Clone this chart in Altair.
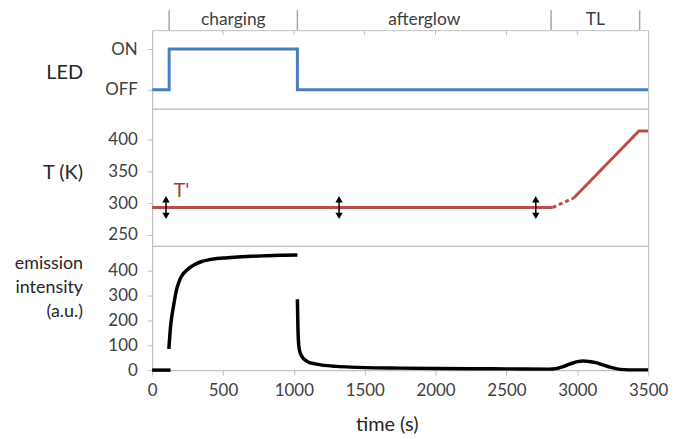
import altair as alt
import pandas as pd

# ---------------- data ----------------
x_ticks = [0, 500, 1000, 1500, 2000, 2500, 3000, 3500]
top_ticks = [500, 1000, 1500, 2000, 2500, 3000]

phase_names = ["charging", "afterglow", "TL"]
phase_start = [120, 1025, 2815]
phase_end = [1025, 2815, 3440]
phase_bounds = [120, 1025, 2815, 3440]

led_t = [0, 120, 120, 1025, 1025, 3500]
led_state = [0, 0, 1, 1, 0, 0]
led_ticks_v = [0, 1]

temp_ticks = [250, 300, 350, 400]
temp_flat_t = [0, 2825]
temp_flat_v = [293, 293]
temp_dash_t = [2825, 2975]
temp_dash_v = [293, 308]
temp_ramp_t = [2975, 3435, 3500]
temp_ramp_v = [308, 413, 413]

arrow_t = [98, 1319, 2707]
arrow_low = [280, 280, 280]
arrow_high = [306, 306, 306]

tprime_label = ["T'"]
tprime_t = [150]
tprime_v = [319]

emis_ticks = [0, 100, 200, 300, 400]
base_t = [0, 130]
base_v = [0, 0]

charge_t = [118, 130, 150, 175, 200, 250, 300, 350, 400, 500, 600, 700, 800, 900, 1025]
charge_v = [85, 175, 255, 330, 370, 405, 425, 437, 444, 451, 455, 458, 460, 462, 463]

after_t = [1025, 1028, 1032, 1038, 1050, 1070, 1100, 1150, 1200, 1300, 1400, 1500,
           1750, 2000, 2250, 2500, 2800, 2850, 2900, 2950, 3000, 3040, 3080, 3130,
           3180, 3230, 3280, 3330, 3400, 3500]
after_v = [285, 190, 120, 85, 62, 45, 33, 25, 20, 15, 12, 10,
           8, 6.5, 5.5, 5, 4, 6, 14, 25, 34, 37, 35, 30,
           21, 12, 5, 2, 1, 1]

# ---------------- style ----------------
FONT = "Lato"
GRAY = "#BFBFBF"
LABEL = "#404040"
TITLE = "#262626"
W = 499

xscale = alt.Scale(domain=[0, 3500], nice=False, zero=False)


def ytitle_axis(title, values, title_y, **kw):
    return alt.Axis(values=values, title=title, titleAngle=0, titleAlign="right",
                    titleX=-70, titleY=title_y, titleBaseline="middle",
                    labelPadding=10, labelOverlap=False, tickCount=len(values), **kw)


# ---------------- header ----------------
header_df = pd.DataFrame({"name": phase_names, "start": phase_start, "end": phase_end})
bounds_df = pd.DataFrame({"t": phase_bounds})

hdr_rules = alt.Chart(bounds_df).mark_rule(color="#A6A6A6", strokeWidth=1.5).encode(
    x=alt.X("t:Q", scale=xscale, axis=None), y=alt.value(0), y2=alt.value(20))
hdr_text = alt.Chart(header_df).transform_calculate(
    mid="(datum.start + datum.end) / 2"
).mark_text(font=FONT, fontSize=17.5, color=LABEL, baseline="middle").encode(
    x=alt.X("mid:Q", scale=xscale, axis=None), y=alt.value(10), text="name:N")
header = alt.layer(hdr_rules, hdr_text).properties(
    width=W, height=20, view=alt.ViewBackground(strokeOpacity=0))

# ---------------- LED panel ----------------
led_axis = ytitle_axis("LED", led_ticks_v, 43,
                       labelExpr="datum.value == 1 ? 'ON' : 'OFF'")
led_df = pd.DataFrame({"t": led_t, "state": led_state, "i": list(range(len(led_t)))})
led_line = alt.Chart(led_df).mark_line(color="#4A7EBB", strokeWidth=3).encode(
    x=alt.X("t:Q", scale=xscale, axis=None),
    y=alt.Y("state:Q", scale=alt.Scale(domain=[-0.463, 1.463], nice=False, zero=False),
            axis=led_axis),
    order=alt.Order("i:Q"))
tt_df = pd.DataFrame({"t": top_ticks})
led_ticks = alt.Chart(tt_df).mark_rule(color=GRAY, strokeWidth=1).encode(
    x=alt.X("t:Q", scale=xscale, axis=None), y=alt.value(0), y2=alt.value(5))
led = alt.layer(led_line, led_ticks).properties(width=W, height=79)

# ---------------- temperature panel ----------------
tscale = alt.Scale(domain=[233, 448], nice=False, zero=False)
t_axis = ytitle_axis("T (K)", temp_ticks, 64)
T_RED = "#BE4B48"
flat_df = pd.DataFrame({"t": temp_flat_t, "T": temp_flat_v})
dash_df = pd.DataFrame({"t": temp_dash_t, "T": temp_dash_v})
ramp_df = pd.DataFrame({"t": temp_ramp_t, "T": temp_ramp_v})

tx = alt.X("t:Q", scale=xscale, axis=None)

t_flat = alt.Chart(flat_df).mark_line(color=T_RED, strokeWidth=3).encode(
    x=tx, y=alt.Y("T:Q", scale=tscale, axis=t_axis))
t_dash = alt.Chart(dash_df).mark_line(color=T_RED, strokeWidth=3, strokeDash=[4, 3]).encode(
    x=tx, y=alt.Y("T:Q", scale=tscale, axis=t_axis))
t_ramp = alt.Chart(ramp_df).mark_line(color=T_RED, strokeWidth=3).encode(
    x=tx, y=alt.Y("T:Q", scale=tscale, axis=t_axis))

arrow_df = pd.DataFrame({"t": arrow_t, "lo": arrow_low, "hi": arrow_high})
a_rule = alt.Chart(arrow_df).mark_rule(color="black", strokeWidth=1.5).encode(
    x=tx, y=alt.Y("lo:Q", scale=tscale, axis=t_axis), y2="hi:Q")
a_up = alt.Chart(arrow_df).mark_point(shape="triangle-up", filled=True, color="black",
                                      size=55, opacity=1).encode(
    x=tx, y=alt.Y("hi:Q", scale=tscale, axis=t_axis))
a_down = alt.Chart(arrow_df).mark_point(shape="triangle-down", filled=True, color="black",
                                        size=55, opacity=1).encode(
    x=tx, y=alt.Y("lo:Q", scale=tscale, axis=t_axis))

tp_df = pd.DataFrame({"label": tprime_label, "t": tprime_t, "T": tprime_v})
t_label = alt.Chart(tp_df).mark_text(font=FONT, fontSize=20, color="#A33B3B",
                                     align="left", baseline="middle").encode(
    x=tx, y=alt.Y("T:Q", scale=tscale, axis=t_axis), text="label:N")

temp = alt.layer(t_flat, t_dash, t_ramp, a_rule, a_up, a_down, t_label).properties(
    width=W, height=138)

# ---------------- emission panel ----------------
escale = alt.Scale(domain=[0, 500], nice=False, zero=False)
base_df = pd.DataFrame({"t": base_t, "v": base_v})
charge_df = pd.DataFrame({"t": charge_t, "v": charge_v})
after_df = pd.DataFrame({"t": after_t, "v": after_v})

x_axis = alt.Axis(values=x_ticks, format="d", title="time (s)", titleFontSize=20,
                  titleX=236, titleY=55, titleBaseline="middle", titleAlign="center",
                  labelPadding=8, labelFlush=False, labelOverlap=False)
e_axis = ytitle_axis(["emission", "intensity", "(a.u.)"], emis_ticks, 18,
                     titleFontSize=18, titleLineHeight=24)

ex = alt.X("t:Q", scale=xscale, axis=x_axis)
ey = alt.Y("v:Q", scale=escale, axis=e_axis)

e_base = alt.Chart(base_df).mark_line(color="black", strokeWidth=3.5).encode(x=ex, y=ey)
e_charge = alt.Chart(charge_df).mark_line(color="black", strokeWidth=3.5,
                                          interpolate="monotone").encode(x=ex, y=ey)
e_after = alt.Chart(after_df).mark_line(color="black", strokeWidth=3.5,
                                        interpolate="monotone").encode(x=ex, y=ey)

emis = alt.layer(e_base, e_charge, e_after).properties(width=W, height=125)

chart = alt.vconcat(header, led, temp, emis, spacing=0, bounds="flush").properties(
    padding={"left": 5, "top": 0, "right": 5, "bottom": 0}
).configure_view(stroke=GRAY, strokeWidth=1).configure_axis(
    grid=False, domainColor=GRAY, tickColor=GRAY, tickSize=5,
    labelFont=FONT, titleFont=FONT, labelFontSize=17, titleFontSize=20,
    labelColor=LABEL, titleColor=TITLE, titleFontWeight="normal"
)

chart.save("out.html", embed_options={"renderer": "svg", "actions": False})
